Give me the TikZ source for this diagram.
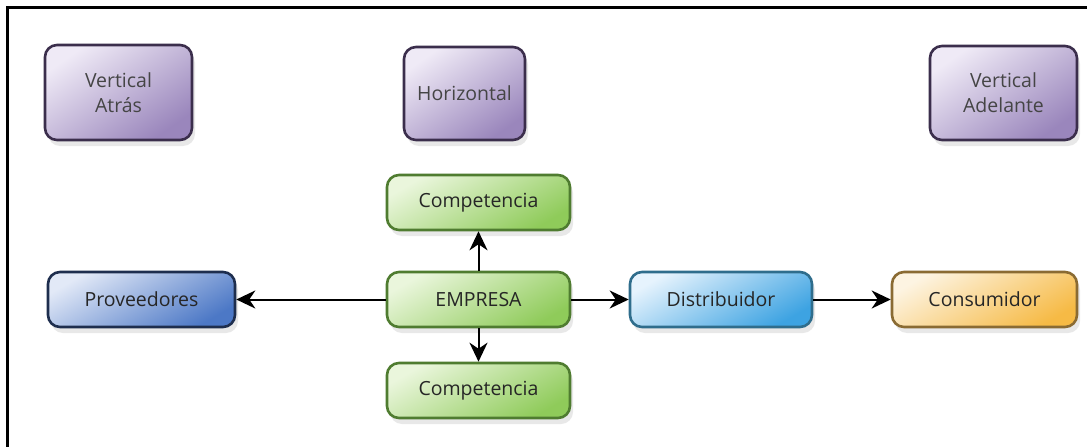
\documentclass[tikz,border=0pt]{standalone}
\usepackage{fontspec}
\setmainfont{Open Sans}
\usetikzlibrary{arrows.meta,shadows}
\definecolor{txt}{HTML}{262626}
\definecolor{ptxt}{HTML}{454545}
\definecolor{pdraw}{HTML}{3B2E4C}\definecolor{ptop}{HTML}{EFEAF6}\definecolor{pbot}{HTML}{9A86BC}
\definecolor{gdraw}{HTML}{4F7C30}\definecolor{gtop}{HTML}{EAF6DC}\definecolor{gbot}{HTML}{8FCB5A}
\definecolor{bdraw}{HTML}{1E2E4E}\definecolor{btop}{HTML}{E2E9F7}\definecolor{bbot}{HTML}{4C78C6}
\definecolor{sdraw}{HTML}{2F6D8C}\definecolor{stop}{HTML}{E6F3FD}\definecolor{sbot}{HTML}{3DA3E2}
\definecolor{odraw}{HTML}{8A6B33}\definecolor{otop}{HTML}{FDF4E2}\definecolor{obot}{HTML}{F6BA45}
\tikzset{
  box/.style={rounded corners=12pt, line width=2.6pt, inner sep=0pt, text=txt,
    font=\fontsize{19.5}{25}\selectfont, align=center,
    drop shadow={shadow xshift=3pt, shadow yshift=-6pt, opacity=0.15, fill=black!60}},
  purplebox/.style={box, draw=pdraw, top color=ptop, bottom color=pbot, shading angle=35, text=ptxt},
  greenbox/.style={box, draw=gdraw, top color=gtop, bottom color=gbot, shading angle=30, minimum width=183pt, minimum height=55pt},
  bluebox/.style={box, draw=bdraw, top color=btop, bottom color=bbot, shading angle=30, minimum height=55pt},
  skybox/.style={box, draw=sdraw, top color=stop, bottom color=sbot, shading angle=30, minimum height=55pt},
  orangebox/.style={box, draw=odraw, top color=otop, bottom color=obot, shading angle=30, minimum height=55pt},
  conn/.style={line width=2pt, black, -{Stealth[length=19pt,width=18pt,inset=6pt]}},
  framebar/.style={line width=3pt, black}
}
\begin{document}
\begin{tikzpicture}[x=1pt,y=-1pt]
\useasboundingbox (0,0) rectangle (1087,447);
\fill[white] (0,0) rectangle (1087,447);
\coordinate (tr) at (1087,7.5);
\coordinate (bl) at (7.5,447);
\coordinate (tl0) at (7.5,6);
\coordinate (tl1) at (6,7.5);
\draw[framebar] (tl1) -- (tr);
\draw[framebar] (tl0) -- (bl);

\node[purplebox, minimum width=147pt, minimum height=95pt] (va) at (118.5,92.5) {Vertical\\Atrás};
\node[purplebox, minimum width=121pt, minimum height=93pt] (ho) at (464.5,93.5) {Horizontal};
\node[purplebox, minimum width=147pt, minimum height=94pt] (vd) at (1003.5,93) {Vertical\\Adelante};

\node[greenbox] (c1) at (478.5,202.5) {Competencia};
\node[greenbox] (em) at (478.5,299.5) {EMPRESA};
\node[greenbox] (c2) at (478.5,390.5) {Competencia};

\node[bluebox, minimum width=187pt] (pr) at (141.5,299.5) {Proveedores};
\node[skybox, minimum width=182pt] (di) at (721,299.5) {Distribuidor};
\node[orangebox, minimum width=185pt] (co) at (984.5,299.5) {Consumidor};

\draw[conn] (em.west) -- (pr.east);
\draw[conn] (em.east) -- (di.west);
\draw[conn] (di.east) -- (co.west);
\draw[conn] (em.north) -- (c1.south);
\draw[conn] (em.south) -- (c2.north);
\end{tikzpicture}
\end{document}
